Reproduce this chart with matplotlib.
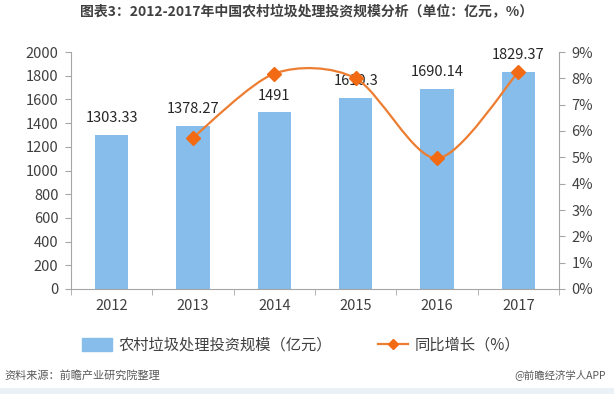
import matplotlib
matplotlib.use("Agg")
import matplotlib.pyplot as plt
from matplotlib.path import Path
from matplotlib.patches import PathPatch, Rectangle
from matplotlib.lines import Line2D

plt.rcParams['font.family'] = ['Noto Sans CJK SC', 'DejaVu Sans']

years = ["2012", "2013", "2014", "2015", "2016", "2017"]
invest = [1303.33, 1378.27, 1491, 1610.3, 1690.14, 1829.37]
invest_labels = ["1303.33", "1378.27", "1491", "1610.3", "1690.14", "1829.37"]
growth_years = [1, 2, 3, 4, 5]
growth = [5.75, 8.18, 8.00, 4.96, 8.24]

bar_color = "#86bdea"
line_color = "#ed7d31"
marker_color = "#f26a14"
axis_color = "#a6a6a6"
text_color = "#404040"

fig = plt.figure(figsize=(6.14, 3.94), dpi=100)
ax = fig.add_axes([71 / 614, 1 - 289 / 394, (559 - 71) / 614, (289 - 52) / 394])

x = list(range(len(years)))
ax.bar(x, invest, width=0.41, color=bar_color, zorder=2)
for xi, v, lab in zip(x, invest, invest_labels):
    ax.annotate(lab, (xi, v), xytext=(0, 7), textcoords="offset points",
                ha="center", va="bottom", fontsize=10.5, color="#262626")

ax.set_xlim(-0.5, len(years) - 0.5)
ax.set_ylim(0, 2000)
ax.set_yticks(range(0, 2001, 200))
ax.set_xticks(x)
ax.set_xticklabels(years)
ax.set_xticks([i + 0.5 for i in range(-1, len(years))], minor=True)
ax.tick_params(axis="x", which="major", length=0, pad=7, labelsize=10.5, colors=text_color)
ax.tick_params(axis="x", which="minor", length=4, color=axis_color, direction="out")
ax.tick_params(axis="y", length=4, color=axis_color, labelsize=10.5, labelcolor=text_color, pad=5)
for s in ["top", "right"]:
    ax.spines[s].set_visible(False)
for s in ["left", "bottom"]:
    ax.spines[s].set_color(axis_color)

ax2 = ax.twinx()
ax2.set_ylim(0, 9)
ax2.set_yticks(range(0, 10))
ax2.set_yticklabels([f"{i}%" for i in range(0, 10)])
ax2.tick_params(axis="y", length=4, color=axis_color, labelsize=10.5, labelcolor=text_color, pad=5)
for s in ["top", "left", "bottom"]:
    ax2.spines[s].set_visible(False)
ax2.spines["right"].set_color(axis_color)

# smoothed line (Catmull-Rom as cubic Bezier, like Excel smoothing)
k = 1 / 7
pts = list(zip(growth_years, growth))
verts = [pts[0]]
codes = [Path.MOVETO]
for i in range(len(pts) - 1):
    p0 = pts[i - 1] if i > 0 else pts[i]
    p1 = pts[i]
    p2 = pts[i + 1]
    p3 = pts[i + 2] if i + 2 < len(pts) else pts[i + 1]
    c1 = (p1[0] + (p2[0] - p0[0]) * k, p1[1] + (p2[1] - p0[1]) * k)
    c2 = (p2[0] - (p3[0] - p1[0]) * k, p2[1] - (p3[1] - p1[1]) * k)
    verts += [c1, c2, p2]
    codes += [Path.CURVE4] * 3
ax2.add_patch(PathPatch(Path(verts, codes), facecolor="none", edgecolor=line_color, lw=1.6, zorder=3))
ax2.plot(growth_years, growth, linestyle="none", marker="D", markersize=7,
         color=marker_color, zorder=4)

fig.text(0.5, 1 - 12 / 394, "图表3：2012-2017年中国农村垃圾处理投资规模分析（单位：亿元，%）",
         ha="center", va="center", fontsize=10, fontweight="bold", color="#404040")

handles = [Rectangle((0, 0), 1, 1, color=bar_color),
           Line2D([0], [0], color=line_color, lw=1.6, marker="D", markersize=5,
                  markerfacecolor=marker_color, markeredgecolor=marker_color)]
fig.legend(handles, ["农村垃圾处理投资规模（亿元）", "同比增长（%）"],
           loc="center", bbox_to_anchor=(0.49, 1 - 345 / 394), ncol=2, frameon=False,
           fontsize=11, handlelength=2.0, handleheight=0.9, handletextpad=0.4,
           columnspacing=3.0, labelcolor="#404040")

fig.text(4 / 614, 1 - 375 / 394, "资料来源：前瞻产业研究院整理", ha="left", va="center",
         fontsize=8, style="italic", color="#595959")
fig.text(606 / 614, 1 - 375 / 394, "@前瞻经济学人APP", ha="right", va="center",
         fontsize=7.5, color="#595959")
fig.patches.append(Rectangle((0, 0), 1, 6 / 394, transform=fig.transFigure,
                             facecolor="#eaf2f7", edgecolor="none"))

fig.savefig("out.png", dpi=100)
